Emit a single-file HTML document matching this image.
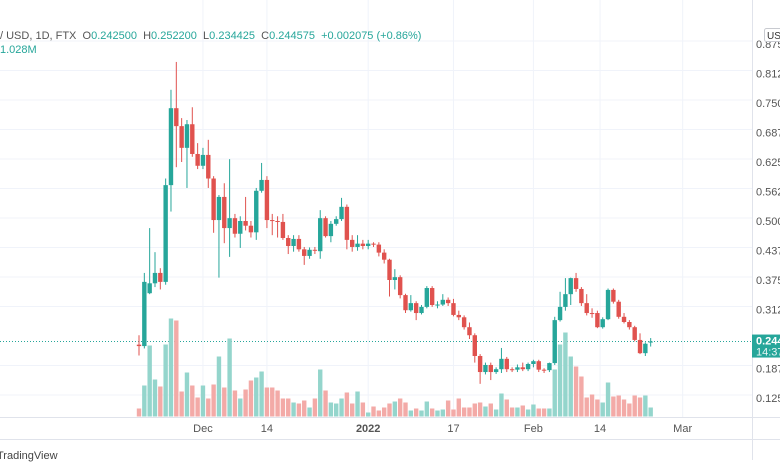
<!DOCTYPE html>
<html><head><meta charset="utf-8">
<style>
html,body{margin:0;padding:0;background:#fff;}
body{width:780px;height:470px;overflow:hidden;position:relative;font-family:"Liberation Sans",sans-serif;}
svg{position:absolute;left:0;top:0;}
</style></head>
<body>
<svg id="chart" width="780" height="470" xmlns="http://www.w3.org/2000/svg">
<g id="grid"></g>
<g id="volumes"></g>
<g id="candles"></g>
<g id="axes"></g>
</svg>
<script>
const opens=[.238,.235,.347,.368,.390,.371,.576,.739,.701,.655,.705,.642,.617,.640,.590,.502,.551,.485,.506,.473,.500,.490,.476,.564,.587,.502,.500,.498,.464,.447,.462,.440,.426,.439,.436,.506,.468,.494,.504,.530,.460,.445,.452,.447,.452,.450,.433,.418,.375,.381,.343,.311,.326,.305,.318,.358,.322,.323,.333,.326,.301,.296,.275,.258,.214,.180,.195,.180,.186,.208,.186,.185,.190,.186,.197,.203,.185,.184,.199,.290,.318,.345,.379,.356,.326,.305,.305,.275,.292,.354,.329,.297,.286,.275,.248,.220,.2425];
const closes=[.235,.371,.368,.390,.371,.576,.739,.701,.655,.705,.642,.617,.640,.590,.502,.551,.485,.506,.473,.500,.490,.476,.564,.587,.502,.500,.498,.464,.447,.462,.440,.426,.439,.437,.506,.468,.494,.504,.530,.460,.445,.452,.447,.452,.450,.433,.418,.375,.381,.343,.311,.326,.305,.318,.358,.322,.323,.333,.326,.301,.296,.275,.258,.214,.180,.195,.180,.186,.208,.186,.185,.190,.186,.197,.203,.185,.184,.199,.290,.318,.345,.379,.356,.326,.305,.303,.275,.292,.354,.329,.297,.286,.275,.248,.220,.240,.2446];
const highs=[.258,.390,.485,.434,.400,.590,.778,.837,.718,.714,.741,.665,.655,.672,.595,.555,.580,.631,.515,.510,.551,.500,.570,.623,.595,.515,.510,.515,.470,.470,.470,.445,.444,.445,.523,.510,.500,.510,.549,.535,.470,.470,.460,.460,.455,.455,.440,.420,.398,.385,.346,.343,.330,.322,.362,.362,.330,.345,.338,.335,.310,.300,.285,.262,.218,.200,.200,.190,.231,.212,.190,.196,.200,.200,.206,.206,.188,.200,.297,.350,.379,.380,.390,.360,.345,.315,.310,.296,.357,.357,.333,.305,.290,.278,.262,.243,.252];
const lows=[.215,.230,.345,.360,.355,.365,.520,.614,.625,.570,.636,.610,.610,.570,.475,.380,.453,.424,.465,.443,.480,.465,.460,.560,.485,.470,.465,.460,.430,.435,.435,.407,.420,.430,.420,.465,.455,.490,.500,.440,.435,.437,.440,.440,.445,.425,.410,.340,.355,.336,.305,.308,.290,.302,.315,.318,.315,.320,.320,.298,.290,.270,.250,.200,.155,.175,.163,.176,.178,.180,.180,.180,.182,.182,.190,.180,.178,.180,.195,.287,.310,.322,.350,.320,.300,.295,.273,.272,.290,.325,.293,.283,.270,.245,.218,.214,.234];
const volumes=[8,31,71,37,30,72,98,96,25,44,31,19,31,18,32,60,29,78,26,18,27,36,39,45,29,29,26,18,18,14,13,16,9,18,47,26,14,13,18,24,13,25,14,4,10,6,9,13,15,18,14,6,8,6,15,8,6,7,16,7,18,9,9,13,14,10,13,7,23,17,9,9,11,7,12,8,8,8,47,72,84,60,50,40,19,22,17,14,34,20,21,17,13,21,19,21,9];
const priceTicks=[0.875,0.8125,0.75,0.6875,0.625,0.5625,0.5,0.4375,0.375,0.3125,0.1875,0.125];
const priceTickLabels=["0.875","0.812","0.750","0.687","0.625","0.562","0.500","0.437","0.375","0.312","0.187","0.125"];
const timeTicks=[12,24,43,59,74,86.5,102];
const timeTickLabels=["Dec","14","2022","17","Feb","14","Mar"];

const NS="http://www.w3.org/2000/svg";
const X0=139, DX=5.33;
function xScale(i){return X0+i*DX;}
function yScale(p){return 44+(0.875-p)*472;}
function vScale(v){return 416.5-v;}
function mk(tag,attrs,parent){const e=document.createElementNS(NS,tag);for(const k in attrs)e.setAttribute(k,attrs[k]);parent.appendChild(e);return e;}

const grid=document.getElementById('grid');
priceTicks.forEach(p=>{
  const l=mk('line',{x1:0,x2:752,y1:yScale(p)-3,y2:yScale(p)-3,stroke:'#f0f3fa','stroke-width':1},grid);
  
  
});
timeTicks.forEach(t=>{
  const l=mk('line',{x1:xScale(t),x2:xScale(t),y1:0,y2:417,stroke:'#f0f3fa','stroke-width':1},grid);
  
  
});

const vg=document.getElementById('volumes');
volumes.forEach((v,i)=>{
  const up=closes[i]>=opens[i];
  const r=mk('rect',{x:xScale(i)-2.2,y:vScale(v),width:4.4,height:416.5-vScale(v),fill:up?'#94d5cc':'#f3aaa7'},vg);
  
  
});

const lp=mk('line',{x1:0,x2:752,y1:yScale(closes[closes.length-1]),y2:yScale(closes[closes.length-1]),stroke:'#26a69a','stroke-width':1,'stroke-dasharray':'1,2'},grid);



const cg=document.getElementById('candles');
opens.forEach((o,i)=>{
  const c=closes[i],up=c>=o,col=up?'#26a69a':'#e0524e';
  const x=xScale(i);
  const g=mk('g',{},cg);
  
  
  mk('line',{x1:x,x2:x,y1:yScale(highs[i]),y2:yScale(lows[i]),stroke:col,'stroke-width':1},g);
  const top=yScale(Math.max(o,c)),bot=yScale(Math.min(o,c));
  mk('rect',{x:x-2.2,y:top,width:4.4,height:Math.max(1,bot-top),fill:col},g);
});

const ax=document.getElementById('axes');
const b1=mk('line',{x1:752.5,x2:752.5,y1:0,y2:460,stroke:'#e0e3eb'},ax);

const b2=mk('line',{x1:0,x2:780,y1:417.5,y2:417.5,stroke:'#e0e3eb'},ax);

const b3=mk('line',{x1:0,x2:780,y1:439.5,y2:439.5,stroke:'#e0e3eb'},ax);

priceTicks.forEach((p,i)=>{
  const t=mk('text',{x:756,y:yScale(p)+4,'font-size':11,fill:'#555'},ax);
  t.textContent=priceTickLabels[i];
  
  
});
timeTicks.forEach((d,i)=>{
  const t=mk('text',{x:xScale(d),y:432,'font-size':11,fill:'#555','text-anchor':'middle','font-weight':timeTickLabels[i]==='2022'?'bold':'normal'},ax);
  t.textContent=timeTickLabels[i];
  
  
});
const ly=yScale(closes[closes.length-1]);
const badge=mk('g',{},ax);


mk('rect',{x:752,y:ly-7,width:28,height:23,fill:'#26a69a'},badge);
const bt1=mk('text',{x:756,y:ly+3,'font-size':11,fill:'#fff','font-weight':'bold'},badge);bt1.textContent='0.244';
const bt2=mk('text',{x:756,y:ly+14,'font-size':11,fill:'#e8f6f4'},badge);bt2.textContent='14:37';
const cb=mk('g',{},ax);


mk('rect',{x:764.5,y:28.5,width:20,height:13,fill:'#fff',stroke:'#c8cad0',rx:2},cb);
const ct=mk('text',{x:767,y:39,'font-size':10,fill:'#333'},cb);ct.textContent='USD';
const h=mk('text',{x:0,y:39,'font-size':11,fill:'#555'},ax);


h.innerHTML='/ USD, 1D, FTX &#160;O<tspan fill="#26a69a">0.242500</tspan> &#160;H<tspan fill="#26a69a">0.252200</tspan> &#160;L<tspan fill="#26a69a">0.234425</tspan> &#160;C<tspan fill="#26a69a">0.244575</tspan> &#160;<tspan fill="#26a69a">+0.002075 (+0.86%)</tspan>';
const vl=mk('text',{x:0,y:53,'font-size':11,fill:'#26a69a'},ax);
vl.textContent='1.028M';


const tv=mk('text',{x:-3,y:459,'font-size':11,fill:'#444'},ax);
tv.textContent='TradingView';


</script>
</body></html>
